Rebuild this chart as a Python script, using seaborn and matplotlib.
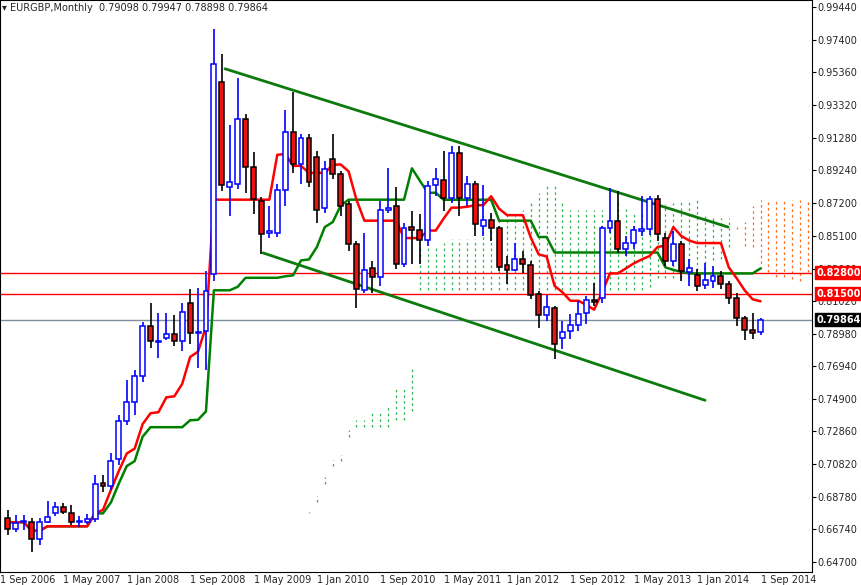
import matplotlib
matplotlib.use("Agg")
import matplotlib.pyplot as plt
import numpy as np
import pandas as pd
import seaborn as sns

# EURGBP monthly bars, Oct 2006 .. Sep 2014
opens = [0.6745, 0.6676, 0.6720, 0.6720, 0.6614, 0.6720, 0.6776, 0.6813, 0.6776, 0.6720,
         0.6720, 0.6738, 0.6963, 0.6944, 0.7113, 0.7350, 0.7469, 0.7631, 0.7949, 0.7849,
         0.7874, 0.7899, 0.7855, 0.8093, 0.7906, 0.7918, 0.8273, 0.9478, 0.8816, 0.8835,
         0.9247, 0.8941, 0.8729, 0.8529, 0.8529, 0.8798, 0.9160, 0.8960, 0.9128, 0.9004,
         0.8685, 0.8991, 0.8898, 0.8710, 0.8461, 0.8174, 0.8311, 0.8255, 0.8673, 0.8698,
         0.8336, 0.8567, 0.8548, 0.8486, 0.8829, 0.8860, 0.8748, 0.9029, 0.8748, 0.8835,
         0.8573, 0.8610, 0.8561, 0.8330, 0.8298, 0.8367, 0.8330, 0.8149, 0.8018, 0.8061,
         0.7874, 0.7918, 0.7955, 0.8030, 0.8111, 0.8124, 0.8561, 0.8604, 0.8430, 0.8467,
         0.8542, 0.8554, 0.8742, 0.8498, 0.8355, 0.8461, 0.8286, 0.8267, 0.8205, 0.8230,
         0.8261, 0.8211, 0.8124, 0.7999, 0.7924, 0.79098]
closes = [0.6676, 0.6714, 0.6720, 0.6614, 0.6720, 0.6751, 0.6813, 0.6782, 0.6720, 0.6720,
          0.6738, 0.6957, 0.6944, 0.7100, 0.7350, 0.7469, 0.7631, 0.7949, 0.7855, 0.7849,
          0.7899, 0.7855, 0.8036, 0.7906, 0.7906, 0.8167, 0.9590, 0.8829, 0.8848, 0.9247,
          0.8941, 0.8742, 0.8523, 0.8542, 0.8798, 0.9160, 0.8960, 0.9122, 0.8848, 0.8673,
          0.8929, 0.8898, 0.8698, 0.8461, 0.8180, 0.8298, 0.8255, 0.8673, 0.8685, 0.8336,
          0.8561, 0.8548, 0.8486, 0.8823, 0.8866, 0.8748, 0.9029, 0.8748, 0.8835, 0.8586,
          0.8610, 0.8561, 0.8317, 0.8298, 0.8367, 0.8336, 0.8142, 0.8018, 0.8068, 0.7837,
          0.7912, 0.7955, 0.8024, 0.8111, 0.8099, 0.8561, 0.8604, 0.8430, 0.8467, 0.8548,
          0.8554, 0.8742, 0.8523, 0.8355, 0.8461, 0.8292, 0.8311, 0.8199, 0.8236, 0.8261,
          0.8211, 0.8124, 0.7999, 0.7924, 0.7906, 0.79864]
highs = [0.6795, 0.6763, 0.6763, 0.6745, 0.6745, 0.6851, 0.6845, 0.6838, 0.6826, 0.6757,
         0.6770, 0.7013, 0.7013, 0.7150, 0.7387, 0.7606, 0.7668, 0.7974, 0.8093, 0.8030,
         0.8030, 0.8018, 0.8093, 0.8180, 0.8186, 0.8292, 0.9809, 0.9653, 0.9209, 0.9503,
         0.9278, 0.9035, 0.8754, 0.8698, 0.8835, 0.9303, 0.9415, 0.9153, 0.9153, 0.9041,
         0.8979, 0.9153, 0.8916, 0.8729, 0.8479, 0.8529, 0.8355, 0.8729, 0.8935, 0.8816,
         0.8592, 0.8667, 0.8648, 0.8854, 0.8935, 0.9041, 0.9072, 0.9072, 0.8885, 0.8854,
         0.8829, 0.8654, 0.8573, 0.8386, 0.8467, 0.8417, 0.8355, 0.8167, 0.8142, 0.8074,
         0.7980, 0.8024, 0.8105, 0.8136, 0.8217, 0.8573, 0.8810, 0.8791, 0.8511, 0.8573,
         0.8760, 0.8760, 0.8766, 0.8529, 0.8542, 0.8479, 0.8367, 0.8305, 0.8342, 0.8323,
         0.8292, 0.8230, 0.8155, 0.8011, 0.8030, 0.79947]
lows = [0.6639, 0.6657, 0.6670, 0.6532, 0.6576, 0.6714, 0.6757, 0.6770, 0.6701, 0.6689,
        0.6707, 0.6720, 0.6907, 0.6919, 0.7075, 0.7325, 0.7387, 0.7593, 0.7812, 0.7749,
        0.7862, 0.7824, 0.7787, 0.7837, 0.7681, 0.7668, 0.8230, 0.8791, 0.8635, 0.8804,
        0.8779, 0.8648, 0.8398, 0.8498, 0.8504, 0.8698, 0.8904, 0.8835, 0.8816, 0.8592,
        0.8654, 0.8866, 0.8635, 0.8417, 0.8061, 0.8155, 0.8155, 0.8199, 0.8654, 0.8305,
        0.8317, 0.8336, 0.8336, 0.8448, 0.8760, 0.8667, 0.8717, 0.8635, 0.8698, 0.8511,
        0.8511, 0.8479, 0.8292, 0.8211, 0.8292, 0.8280, 0.8117, 0.7937, 0.7980, 0.7743,
        0.7805, 0.7868, 0.7918, 0.7961, 0.8074, 0.8093, 0.8529, 0.8405, 0.8386, 0.8430,
        0.8511, 0.8517, 0.8479, 0.8323, 0.8323, 0.8230, 0.8199, 0.8167, 0.8180, 0.8186,
        0.8180, 0.8086, 0.7949, 0.7862, 0.7868, 0.78898]

tick_labels = ["1 Sep 2006", "1 May 2007", "1 Jan 2008", "1 Sep 2008", "1 May 2009",
               "1 Jan 2010", "1 Sep 2010", "1 May 2011", "1 Jan 2012", "1 Sep 2012",
               "1 May 2013", "1 Jan 2014", "1 Sep 2014"]
tick_pos = [-1, 7, 15, 23, 31, 39, 47, 55, 63, 71, 79, 87, 95]
price_ticks = [0.99440, 0.97400, 0.95360, 0.93320, 0.91280, 0.89240, 0.87200, 0.85100,
               0.83060, 0.81020, 0.78980, 0.76940, 0.74900, 0.72860, 0.70820, 0.68780,
               0.66740, 0.64700]
levels = [0.8280, 0.8150]
last_price = 0.79864
upper_channel = ([27.4, 90.9], [0.9559, 0.8567])
lower_channel = ([32.2, 88.0], [0.8405, 0.7481])

df = pd.DataFrame({"open": opens, "high": highs, "low": lows, "close": closes})
df["i"] = np.arange(len(df))
# Ichimoku lines
df["tenkan"] = (df["high"].rolling(9, min_periods=1).max() + df["low"].rolling(9, min_periods=1).min()) / 2
df["kijun"] = (df["high"].rolling(26, min_periods=1).max() + df["low"].rolling(26, min_periods=1).min()) / 2
span_a = ((df["tenkan"] + df["kijun"]) / 2).values
span_b = ((df["high"].rolling(52, min_periods=1).max() + df["low"].rolling(52, min_periods=1).min()) / 2).values
cloud_x = df["i"].values + 26

sns.set_style("white")
fig = plt.figure(figsize=(8.61, 5.85), dpi=100)
ax = fig.add_axes([0.0, 13 / 585, 812 / 861, 572 / 585])

for xi, a, b in zip(cloud_x, span_a, span_b):
    if xi > 102:
        continue
    col = "#2db34a" if a >= b else "#ff6a1a"
    ax.vlines(xi, min(a, b), max(a, b), colors=col, linestyles=(0, (2, 2.5)), lw=0.9)

for lv in levels:
    ax.axhline(lv, color="red", lw=1)
ax.axhline(last_price, color="#7f8fa0", lw=1)

ax.plot(*upper_channel, color="#0d7a0d", lw=2)
ax.plot(*lower_channel, color="#0d7a0d", lw=2)

sns.lineplot(data=df, x="i", y="kijun", color="#008000", lw=1.8, ax=ax)
sns.lineplot(data=df, x="i", y="tenkan", color="#ff0000", lw=1.8, ax=ax)

w = 0.62
for _, r in df.iterrows():
    up = r["close"] >= r["open"]
    ec = "blue" if up else "black"
    ax.vlines(r["i"], r["low"], r["high"], colors=ec, lw=1.2, zorder=4)
    lo, hi = min(r["open"], r["close"]), max(r["open"], r["close"])
    ax.bar(r["i"], max(hi - lo, 0.0004), bottom=lo, width=w,
           color="white" if up else "#ee1111", edgecolor=ec, lw=1.1, zorder=5)

ax.set_xlim(-1, 101.5)
ax.set_ylim(0.6405, 0.9990)
ax.set_xlabel("")
ax.set_ylabel("")
ax.yaxis.tick_right()
ax.set_yticks(price_ticks)
ax.set_yticklabels([f"{p:.5f}" for p in price_ticks], fontsize=7)
ax.set_xticks(tick_pos)
ax.set_xticklabels(tick_labels, fontsize=7, ha="left")
ax.tick_params(axis="x", length=2, pad=0.5, direction="out", color="black")
ax.tick_params(axis="y", length=3, pad=1, direction="out", color="black")
for s in ax.spines.values():
    s.set_color("black")
    s.set_linewidth(0.8)

ax.text(0.003, 0.995, "\u25be EURGBP,Monthly  0.79098 0.79947 0.78898 0.79864",
        transform=ax.transAxes, fontsize=7, va="top", ha="left")

for lv, bg in [(0.8280, "red"), (0.8150, "red"), (last_price, "black")]:
    ax.text(1.005, lv, f"{lv:.5f}", transform=ax.get_yaxis_transform(), fontsize=7,
            color="white", va="center", ha="left", fontweight="bold",
            bbox=dict(boxstyle="square,pad=0.15", fc=bg, ec=bg), zorder=10, clip_on=False)

fig.savefig("out.png", dpi=100)
